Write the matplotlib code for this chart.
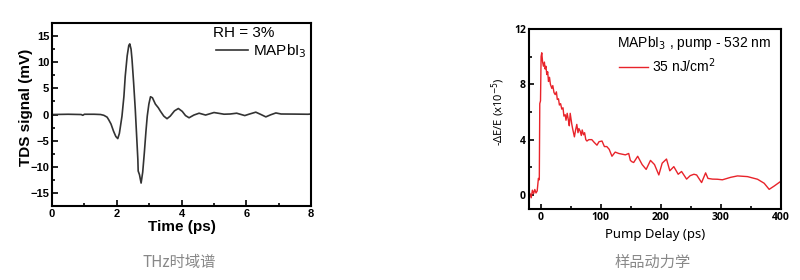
import matplotlib
matplotlib.use("Agg")
import matplotlib.pyplot as plt
from matplotlib.ticker import MultipleLocator

# THz time-domain trace (ps, mV)
thz_time = [0, 0.5, 0.9, 0.95, 1.0, 1.3, 1.5, 1.6, 1.7, 1.75, 1.82, 1.9, 1.97, 2.03,
            2.08, 2.16, 2.22, 2.26, 2.32, 2.37, 2.4, 2.44, 2.47, 2.52, 2.57, 2.62,
            2.65, 2.66, 2.7, 2.75, 2.8, 2.85, 2.9, 2.94, 2.99, 3.04, 3.1, 3.19, 3.28,
            3.35, 3.45, 3.55, 3.65, 3.78, 3.9, 4.02, 4.12, 4.23, 4.38, 4.54, 4.74,
            5.0, 5.31, 5.5, 5.7, 5.95, 6.1, 6.29, 6.45, 6.6, 6.75, 6.91, 7.07, 7.5,
            7.9, 8.0]
thz_signal = [0, 0.05, 0, -0.15, 0.05, 0.05, 0, -0.15, -0.5, -1.0, -1.8, -3.2, -4.2,
              -4.6, -3.6, -0.3, 3.5, 7.3, 11.2, 13.2, 13.5, 12.5, 10.5, 6.0, 1.0,
              -5.0, -8.6, -10.8, -11.5, -13.1, -11.0, -7.3, -3.2, -0.3, 2.0, 3.4, 3.2,
              2.0, 1.3, 0.6, -0.3, -0.8, -0.3, 0.7, 1.15, 0.6, -0.2, -0.62, -0.1, 0.25,
              -0.1, 0.38, 0.06, 0.1, 0.25, -0.2, 0.1, 0.45, 0.0, -0.45, -0.05, 0.3,
              0.1, 0.08, 0.05, 0.1]

# pump-probe kinetics (ps, -dE/E x1e-5)
delay = [-20, -18, -16, -14, -12, -10, -8, -6, -4, -2.5, -1.7, -0.5, 0.5, 1.6, 3, 4.4,
         6, 7.2, 8.5, 10, 11.5, 12.8, 14.5, 16, 18.4, 20, 22, 24, 26, 27.5, 29.5, 31,
         33, 35, 37, 38.5, 40.6, 42, 44, 46, 47.5, 49, 51.7, 53, 54.5, 56, 58, 60, 62,
         63.5, 65.7, 67.5, 69, 71.2, 73, 75, 76.9, 80, 85, 89, 93.6, 97, 102, 106,
         110, 114, 118.6, 124, 130, 135.5, 141, 146.5, 149.3, 152, 154.8, 161.5,
         168.9, 175.6, 182.8, 189.5, 196.7, 202.3, 209.5, 215, 221.7, 229, 234.6,
         243, 249, 255.2, 259.7, 268, 274.7, 278.6, 286, 294.3, 302.7, 316.6, 327.8,
         344.5, 361.2, 372.3, 380.6, 389, 399]
dEE = [0.2, 0.1, -0.2, 0.35, 0.1, 0.4, 0.15, 0.3, 1.2, 1.1, 6.6, 6.8, 10.0, 10.27,
       9.6, 9.3, 9.6, 9.1, 9.3, 8.7, 8.9, 8.2, 8.5, 8.0, 7.7, 7.9, 7.4, 7.25, 7.45,
       6.9, 6.95, 6.5, 6.6, 6.2, 6.3, 5.7, 5.8, 5.4, 5.9, 5.4, 5.0, 5.9, 5.1, 4.8,
       4.5, 4.2, 4.7, 5.1, 4.5, 4.8, 4.6, 4.3, 4.7, 4.35, 4.5, 4.0, 3.9, 4.0, 4.0,
       3.8, 3.6, 3.85, 3.9, 3.5, 3.5, 3.3, 2.8, 3.1, 3.0, 2.95, 2.9, 3.0, 2.5, 2.4,
       2.35, 2.8, 2.2, 1.85, 2.5, 2.2, 1.45, 2.3, 2.6, 1.75, 2.05, 1.5, 1.7, 1.15,
       1.4, 1.5, 1.45, 0.9, 1.6, 1.2, 1.15, 1.14, 1.1, 1.28, 1.38, 1.33, 1.14, 0.85,
       0.41, 0.65, 0.96]

ARIAL = "Liberation Sans"

fig = plt.figure(figsize=(8, 2.8), dpi=100)

# left panel
ax1 = fig.add_axes([0.065, 0.264, 0.324, 0.654])
ax1.plot(thz_time, thz_signal, color="#333333", linewidth=1.2, label="MAPbI$_3$")
ax1.set_xlim(0, 8)
ax1.set_ylim(-17.5, 17.5)
ax1.xaxis.set_major_locator(MultipleLocator(2))
ax1.xaxis.set_minor_locator(MultipleLocator(1))
ax1.yaxis.set_major_locator(MultipleLocator(5))
ax1.yaxis.set_minor_locator(MultipleLocator(2.5))
ax1.tick_params(which="both", direction="in", width=1.2)
ax1.tick_params(which="major", length=4, labelsize=8, pad=2)
ax1.tick_params(which="minor", length=2.5)
for lab in ax1.get_xticklabels() + ax1.get_yticklabels():
    lab.set_fontfamily(ARIAL)
    lab.set_fontweight("bold")
for sp in ax1.spines.values():
    sp.set_linewidth(1.5)
ax1.set_xlabel("Time (ps)", fontfamily=ARIAL, fontweight="bold", fontsize=11, labelpad=1)
ax1.set_ylabel("TDS signal (mV)", fontfamily=ARIAL, fontweight="bold", fontsize=11)
ax1.yaxis.set_label_coords(-0.075, 0.54)
ax1.text(0.62, 0.945, "RH = 3%", transform=ax1.transAxes, fontfamily=ARIAL, fontsize=11,
         va="center")
ax1.legend(loc="upper right", bbox_to_anchor=(1.005, 0.93), frameon=False,
           prop={"family": ARIAL, "size": 11}, handlelength=2.1, handletextpad=0.3,
           borderaxespad=0)

# right panel
ax2 = fig.add_axes([0.661, 0.254, 0.315, 0.643])
ax2.plot(delay, dEE, color="#e8232a", linewidth=1.0, label="35 nJ/cm$^2$")
ax2.set_xlim(-20, 400)
ax2.set_ylim(-1, 12)
ax2.xaxis.set_major_locator(MultipleLocator(100))
ax2.xaxis.set_minor_locator(MultipleLocator(50))
ax2.yaxis.set_major_locator(MultipleLocator(4))
ax2.yaxis.set_minor_locator(MultipleLocator(2))
ax2.tick_params(which="both", direction="in", width=1.2)
ax2.tick_params(which="major", length=3.5, labelsize=7.5, pad=2)
ax2.tick_params(which="minor", length=2)
for lab in ax2.get_xticklabels() + ax2.get_yticklabels():
    lab.set_fontfamily("Open Sans")
    lab.set_fontweight("bold")
for sp in ax2.spines.values():
    sp.set_linewidth(1.5)
ax2.set_xlabel("Pump Delay (ps)", fontfamily="Noto Sans", fontsize=9.5, labelpad=4)
ax2.set_ylabel("-ΔE/E (x10$^{-5}$)", fontfamily="Noto Sans", fontsize=8)
ax2.yaxis.set_label_coords(-0.087, 0.54)
ax2.text(0.35, 0.922, "MAPbI$_3$ , pump - 532 nm", transform=ax2.transAxes,
         fontfamily=ARIAL, fontsize=10, va="center")
ax2.legend(loc="upper left", bbox_to_anchor=(0.335, 0.88), frameon=False,
           prop={"family": ARIAL, "size": 10}, handlelength=2.1, handletextpad=0.3,
           borderaxespad=0)

# captions
fig.text(179.5 / 800, 1 - 262 / 280, "THz时域谱", fontfamily="Noto Sans CJK SC",
         fontsize=11, color="#888888", ha="center", va="center")
fig.text(652.5 / 800, 1 - 262 / 280, "样品动力学", fontfamily="Noto Sans CJK SC",
         fontsize=11, color="#888888", ha="center", va="center")

fig.savefig("out.png", dpi=100, facecolor="white")
